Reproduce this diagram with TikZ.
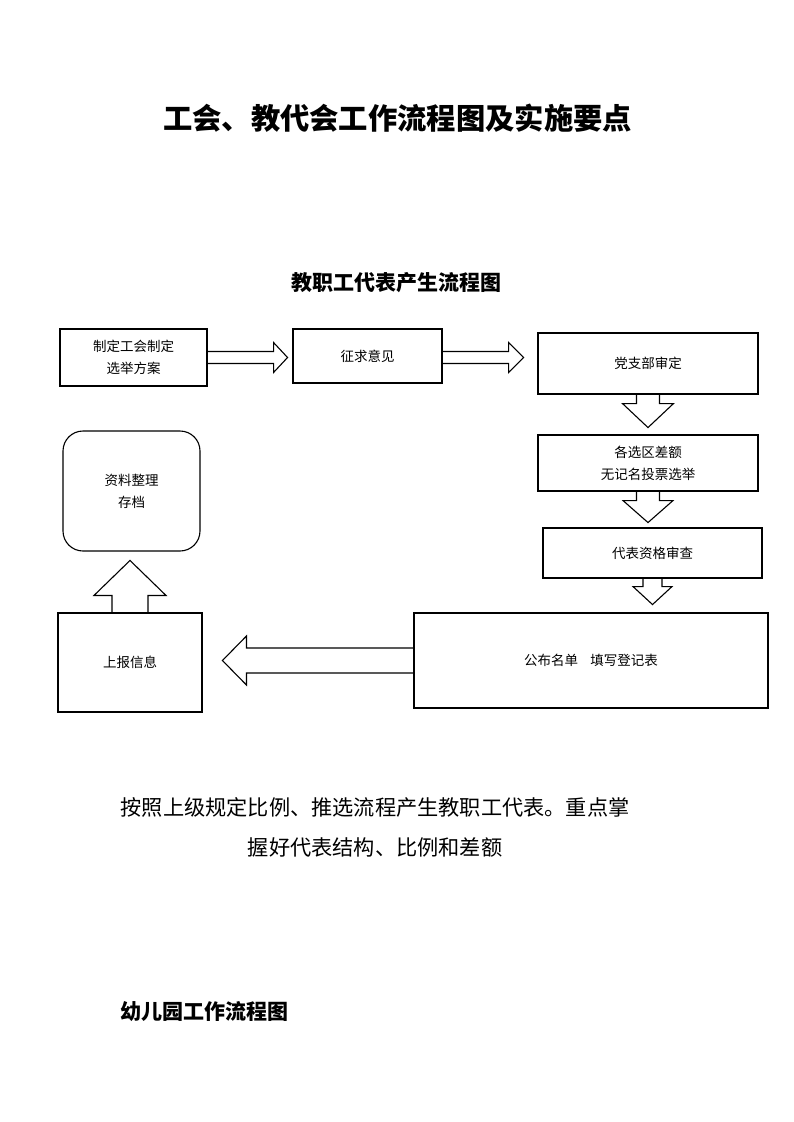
\documentclass[tikz,border=0pt]{standalone}
\usepackage{fontspec}
\setmainfont{Noto Sans CJK SC}
\usetikzlibrary{calc}
\begin{document}
\begin{tikzpicture}[x=1pt,y=-1pt,
				every node/.style={inner sep=0pt,font=\fontsize{13.5}{22}\selectfont,align=center},
				box/.style={draw,line width=1.1pt},
				blockarrow/.style={draw,line width=1.1pt,line join=miter},
				heading/.style={font=\fontsize{21}{26}\selectfont\bfseries}]
\useasboundingbox (0,0) rectangle (793,1122);
\node[heading,font=\fontsize{29.3}{34}\selectfont\bfseries] (title) at (397.5,118) {工会、教代会工作流程图及实施要点};
\node[heading] (sub) at (396.5,283) {教职工代表产生流程图};
% boxes
\node[box,minimum width=147pt,minimum height=57pt] (plan) at (133.5,357.5) {制定工会制定\\选举方案};
\node[box,minimum width=149pt,minimum height=54pt] (ask) at (367.5,356) {征求意见};
\node[box,minimum width=220pt,minimum height=61pt] (party) at (648,363.5) {党支部审定};
\node[box,minimum width=220pt,minimum height=56pt] (vote) at (648,463) {各选区差额\\无记名投票选举};
\node[box,minimum width=219pt,minimum height=50pt] (check) at (652.5,553) {代表资格审查};
\node[box,minimum width=354pt,minimum height=95pt] (list) at (591,660.5) {公布名单\hspace{0.9em}填写登记表};
\node[box,minimum width=144pt,minimum height=99pt] (report) at (130,662.5) {上报信息};
\node[box,rounded corners=20pt,minimum width=137pt,minimum height=120pt] (file) at (131.5,491) {资料整理\\存档};
% block arrows
\draw[blockarrow] ($(plan.east)+(0,-6)$) -- ++(66,0) -- ++(0,-9) -- ++(14,15) -- ++(-14,15) -- ++(0,-9) -- ++(-66,0);
\draw[blockarrow] ($(ask.east)+(0,-4.5)$) -- ++(66,0) -- ++(0,-9) -- ++(15,15) -- ++(-15,15) -- ++(0,-9) -- ++(-66,0);
\draw[blockarrow] ($(party.south)+(-11.5,0)$) -- ++(0,9) -- ++(-14,0) -- ++(25.5,24) -- ++(25.5,-24) -- ++(-14,0) -- ++(0,-9);
\draw[blockarrow] ($(vote.south)+(-11.5,0)$) -- ++(0,9) -- ++(-13.5,0) -- ++(25,22) -- ++(25,-22) -- ++(-13.5,0) -- ++(0,-9);
\draw[blockarrow] ($(check.south)+(-9.5,0)$) -- ++(0,8) -- ++(-10,0) -- ++(19.5,18) -- ++(19.5,-18) -- ++(-10,0) -- ++(0,-8);
\draw[blockarrow] ($(list.west)+(0,-12.5)$) -- ++(-167,0) -- ++(0,-12) -- ++(-24,24.5) -- ++(24,24.5) -- ++(0,-12) -- ++(167,0);
\draw[blockarrow] ($(report.north)+(-18,0)$) -- ++(0,-17) -- ++(-18,0) -- ++(36,-35) -- ++(36,35) -- ++(-18,0) -- ++(0,17);
% notes
\node[font=\fontsize{21.2}{40}\selectfont] (note) at (375,827) {按照上级规定比例、推选流程产生教职工代表。重点掌\\握好代表结构、比例和差额};
\node[heading,anchor=west] (kind) at (120,1012) {幼儿园工作流程图};
\end{tikzpicture}
\end{document}
